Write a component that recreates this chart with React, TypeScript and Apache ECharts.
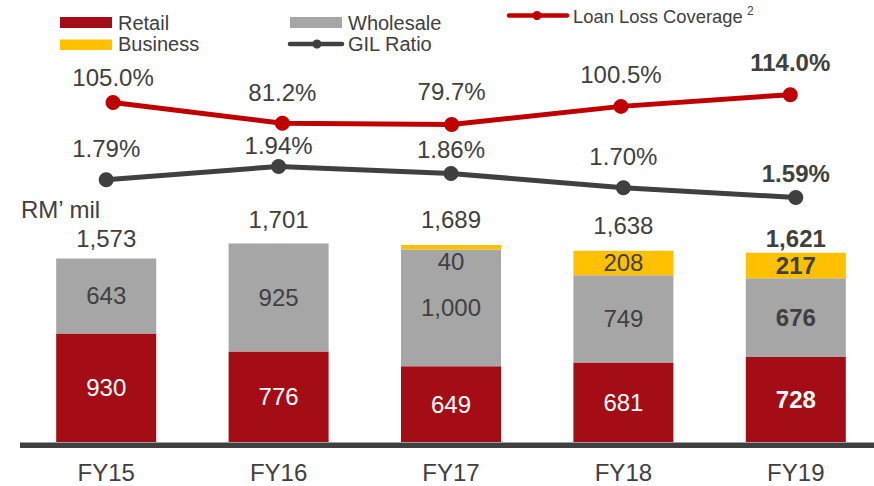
import React, { useEffect, useRef } from "react";
import * as echarts from "echarts";

const categories = ["FY15", "FY16", "FY17", "FY18", "FY19"];
const retail = [930, 776, 649, 681, 728];
const wholesale = [643, 925, 1000, 749, 676];
const business = [0, 0, 40, 208, 217];
const totals = [1573, 1701, 1689, 1638, 1621];
const loanLossCoverage = [105.0, 81.2, 79.7, 100.5, 114.0];
const gilRatio = [1.79, 1.94, 1.86, 1.7, 1.59];

const FONT = "'Liberation Sans', Arial, sans-serif";
const TXT = "#404040";
const C_RETAIL = "#A50D16";
const C_WHOLE = "#A6A6A6";
const C_BUS = "#FFC000";
const C_LLC = "#C00000";
const C_GIL = "#404040";

const fmt = (v: number) => v.toLocaleString("en-US");

export default function App() {
  const ref = useRef<HTMLDivElement>(null);
  useEffect(() => {
    if (!ref.current) return;
    const chart = echarts.init(ref.current, null, { renderer: "svg" });
    const last = categories.length - 1;
    const gridTop = 40;
    const gridH = 402;

    const llcOffsets = [6, 0, -2, -1, -1];
    const gilOffsets = [0, 10, 7, 0, 7];
    const totOffsets = [5, 0, -0.5, -0.5, 10.5];

    const barLabel = (color: string) => ({
      show: true,
      position: "inside",
      color,
      fontSize: 24,
      fontFamily: FONT,
      formatter: (p: any) => fmt(p.value),
    });

    const option: any = {
      animation: false,
      backgroundColor: "#ffffff",
      grid: [
        { left: 20, width: 862, top: gridTop, height: gridH },
        { left: 28.4, width: 846.5, top: gridTop, height: gridH },
      ],
      xAxis: [
        {
          type: "category",
          data: categories,
          gridIndex: 0,
          axisLine: { show: false },
          axisTick: { show: false },
          axisLabel: { color: TXT, fontSize: 24, fontFamily: FONT, margin: 18 },
        },
        {
          type: "category",
          data: categories,
          gridIndex: 1,
          show: false,
        },
      ],
      yAxis: [
        { type: "value", gridIndex: 0, min: 0, max: 3445, show: false, splitLine: { show: false } },
        { type: "value", gridIndex: 0, min: -1.17, max: 3.367, show: false, splitLine: { show: false } },
        { type: "value", gridIndex: 1, min: -285.3, max: 176.8, show: false, splitLine: { show: false } },
      ],
      series: [
        {
          name: "Retail",
          type: "bar",
          stack: "total",
          barWidth: 100,
          xAxisIndex: 0,
          yAxisIndex: 0,
          itemStyle: { color: C_RETAIL },
          label: barLabel("#ffffff"),
          data: retail.map((v, i) => ({
            value: v,
            label: i === last ? { fontWeight: "bold" } : undefined,
          })),
        },
        {
          name: "Wholesale",
          type: "bar",
          stack: "total",
          barWidth: 100,
          xAxisIndex: 0,
          yAxisIndex: 0,
          itemStyle: { color: C_WHOLE },
          label: barLabel(TXT),
          data: wholesale.map((v, i) => ({
            value: v,
            label: i === last ? { fontWeight: "bold" } : undefined,
          })),
        },
        {
          name: "Business",
          type: "bar",
          stack: "total",
          barWidth: 100,
          xAxisIndex: 0,
          yAxisIndex: 0,
          itemStyle: { color: C_BUS },
          label: barLabel(TXT),
          data: business.map((v, i) => {
            if (v === 0) return { value: v, label: { show: false } };
            if (v < 100) return { value: v, label: { position: "bottom", distance: 0 } };
            return { value: v, label: i === last ? { fontWeight: "bold" } : {} };
          }),
        },
        {
          name: "Total",
          type: "scatter",
          xAxisIndex: 0,
          yAxisIndex: 0,
          symbolSize: 0,
          silent: true,
          itemStyle: { opacity: 1, color: TXT },
          label: {
            show: true,
            position: "top",
            distance: 12.5,
            color: TXT,
            opacity: 1,
            fontSize: 24,
            fontFamily: FONT,
            formatter: (p: any) => fmt(p.value),
          },
          data: totals.map((v, i) => ({
            value: v,
            label: {
              offset: [0, totOffsets[i]],
              fontWeight: i === last ? "bold" : "normal",
            },
          })),
          z: 5,
        },
        {
          name: "GIL Ratio",
          type: "line",
          xAxisIndex: 0,
          yAxisIndex: 1,
          symbol: "circle",
          symbolSize: 15,
          lineStyle: { color: C_GIL, width: 5 },
          itemStyle: { color: C_GIL },
          label: {
            show: true,
            position: "top",
            distance: 11.5,
            color: TXT,
            fontSize: 24,
            fontFamily: FONT,
            formatter: (p: any) => p.value.toFixed(2) + "%",
          },
          data: gilRatio.map((v, i) => ({
            value: v,
            label: {
              offset: [0, gilOffsets[i]],
              fontWeight: i === last ? "bold" : "normal",
            },
          })),
          z: 6,
        },
        {
          name: "Loan Loss Coverage",
          type: "line",
          xAxisIndex: 1,
          yAxisIndex: 2,
          symbol: "circle",
          symbolSize: 15,
          lineStyle: { color: C_LLC, width: 5 },
          itemStyle: { color: C_LLC },
          label: {
            show: true,
            position: "top",
            distance: 11.5,
            color: TXT,
            fontSize: 24,
            fontFamily: FONT,
            formatter: (p: any) => p.value.toFixed(1) + "%",
          },
          data: loanLossCoverage.map((v, i) => ({
            value: v,
            label: {
              offset: [0, llcOffsets[i]],
              fontWeight: i === last ? "bold" : "normal",
            },
          })),
          z: 6,
        },
      ],
      graphic: [
        { type: "rect", shape: { x: 20, y: 442.5, width: 870, height: 5.5 }, style: { fill: "#404040" }, z: 10 },
        {
          type: "text",
          x: 21,
          y: 209,
          style: { text: "RM\u2019 mil", fill: TXT, font: `24px ${FONT}`, verticalAlign: "middle" },
        },
        { type: "rect", shape: { x: 60, y: 17, width: 52, height: 11 }, style: { fill: C_RETAIL } },
        {
          type: "text",
          x: 118,
          y: 22.5,
          style: { text: "Retail", fill: TXT, font: `20px ${FONT}`, verticalAlign: "middle" },
        },
        { type: "rect", shape: { x: 60, y: 39.5, width: 52, height: 10.5 }, style: { fill: C_BUS } },
        {
          type: "text",
          x: 118,
          y: 44,
          style: { text: "Business", fill: TXT, font: `20px ${FONT}`, verticalAlign: "middle" },
        },
        { type: "rect", shape: { x: 290, y: 17, width: 52, height: 11 }, style: { fill: C_WHOLE } },
        {
          type: "text",
          x: 348,
          y: 22.5,
          style: { text: "Wholesale", fill: TXT, font: `20px ${FONT}`, verticalAlign: "middle" },
        },
        {
          type: "line",
          shape: { x1: 290, y1: 44, x2: 342, y2: 44 },
          style: { stroke: C_GIL, lineWidth: 4.5, lineCap: "round" },
        },
        { type: "circle", shape: { cx: 317, cy: 44, r: 4.5 }, style: { fill: C_GIL } },
        {
          type: "text",
          x: 348,
          y: 44,
          style: { text: "GIL Ratio", fill: TXT, font: `20px ${FONT}`, verticalAlign: "middle" },
        },
        {
          type: "line",
          shape: { x1: 509, y1: 15.5, x2: 567, y2: 15.5 },
          style: { stroke: C_LLC, lineWidth: 4.5, lineCap: "round" },
        },
        { type: "circle", shape: { cx: 537, cy: 15.5, r: 4.5 }, style: { fill: C_LLC } },
        {
          type: "text",
          x: 573,
          y: 16.5,
          style: { text: "Loan Loss Coverage", fill: TXT, font: `18.4px ${FONT}`, verticalAlign: "middle" },
        },
        {
          type: "text",
          x: 747,
          y: 11,
          style: { text: "2", fill: TXT, font: `12px ${FONT}`, verticalAlign: "middle" },
        },
      ],
    };
    chart.setOption(option);
    return () => chart.dispose();
  }, []);
  return (
    <div style={{ position: "fixed", left: 0, top: 0, width: 874, height: 486, overflow: "hidden", background: "#fff" }}>
      <div ref={ref} style={{ position: "absolute", left: 0, top: 0, width: 890, height: 486 }} />
    </div>
  );
}
